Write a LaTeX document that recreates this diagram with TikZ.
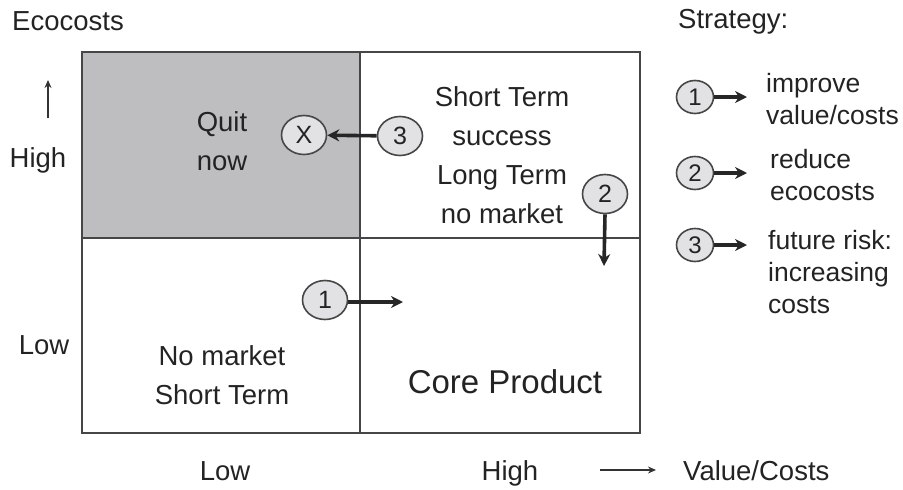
\documentclass[tikz,border=0pt]{standalone}
\usepackage{fontspec}
\setmainfont{Liberation Sans}
\usetikzlibrary{arrows.meta,shapes.geometric}
\definecolor{quitgray}{RGB}{190,190,192}
\definecolor{circfill}{RGB}{226,226,228}
\definecolor{linecol}{RGB}{70,70,70}
\definecolor{txt}{RGB}{35,35,35}
\begin{document}
\begin{tikzpicture}[x=1pt,y=-1pt,
  lbl/.style={font=\fontsize{27.5}{39}\selectfont, text=txt, inner sep=0pt, align=center},
  leg/.style={font=\fontsize{26.5}{32}\selectfont, text=txt, inner sep=0pt, align=left, anchor=west},
  num/.style={ellipse, draw=linecol, fill=circfill, line width=1.6pt, minimum width=45pt, minimum height=39pt, inner sep=0pt, text=txt, font=\fontsize{25}{25}\selectfont},
  lnum/.style={num, minimum width=37pt, minimum height=33pt, font=\fontsize{24}{24}\selectfont},
  arr/.style={-{Stealth[length=12pt,width=12pt]}, line width=3.6pt, draw=black!85},
  axarr/.style={-{Stealth[length=8pt,width=7pt]}, line width=1.5pt, draw=black!80},
  grid/.style={draw=linecol, line width=1.4pt}]
\useasboundingbox (0,0) rectangle (903,490);
% quadrants
\fill[quitgray] (82,52) rectangle (360,238);
\draw[grid] (82,52) rectangle (640,433);
\draw[grid] (360,52) -- (360,433);
\draw[grid] (82,238) -- (640,238);
% axis labels
\node[lbl, anchor=west] (eco) at (12,21) {Ecocosts};
\coordinate (upA) at (48,118);
\coordinate (upB) at (48,80);
\draw[axarr] (upA) -- (upB);
\node[lbl] (yhigh) at (38,160) {High};
\node[lbl] (ylow) at (44,345) {Low};
\node[lbl, anchor=base] (xlow) at (225,480) {Low};
\node[lbl, anchor=base] (xhigh) at (510,480) {High};
\coordinate (rtA) at (600,470);
\coordinate (rtB) at (656,470);
\draw[axarr] (rtA) -- (rtB);
\node[lbl, anchor=base west] (vc) at (683,480) {Value/Costs};
% quadrant texts
\node[lbl] (quit) at (222,141) {Quit\\now};
\node[lbl] (st) at (502,155) {Short Term\\success\\Long Term\\no market};
\node[lbl] (nm) at (222,375) {No market\\Short Term};
\node[lbl, font=\fontsize{33}{33}\selectfont] (core) at (505,382) {Core Product};
% circles in grid
\node[num] (cx) at (304,135) {X};
\node[num] (c3) at (400,136) {3};
\node[num] (c2) at (605,194) {2};
\node[num] (c1) at (325,300) {1};
\coordinate (e2) at (604,266);
\coordinate (e1) at (403,302);
\draw[arr] (c3) -- (cx);
\draw[arr] (c2.south) -- (e2);
\draw[arr] (c1.east |- e1) -- (e1);
% legend
\node[lbl, anchor=west] (strat) at (678,22) {Strategy:};
\node[lnum] (l1) at (695,97) {1};
\node[lnum] (l2) at (695,173) {2};
\node[lnum] (l3) at (695,245) {3};
\coordinate (a1) at (747,97);
\coordinate (a2) at (747,173);
\coordinate (a3) at (747,245);
\draw[arr, line width=3.2pt] (l1.east) -- (a1);
\draw[arr, line width=3.2pt] (l2.east) -- (a2);
\draw[arr, line width=3.2pt] (l3.east) -- (a3);
\node[leg] (t1) at (766,99) {improve\\value/costs};
\node[leg] (t2) at (770,175) {reduce\\ecocosts};
\node[leg] (t3) at (768,272) {future risk:\\increasing\\costs};
\end{tikzpicture}
\end{document}
